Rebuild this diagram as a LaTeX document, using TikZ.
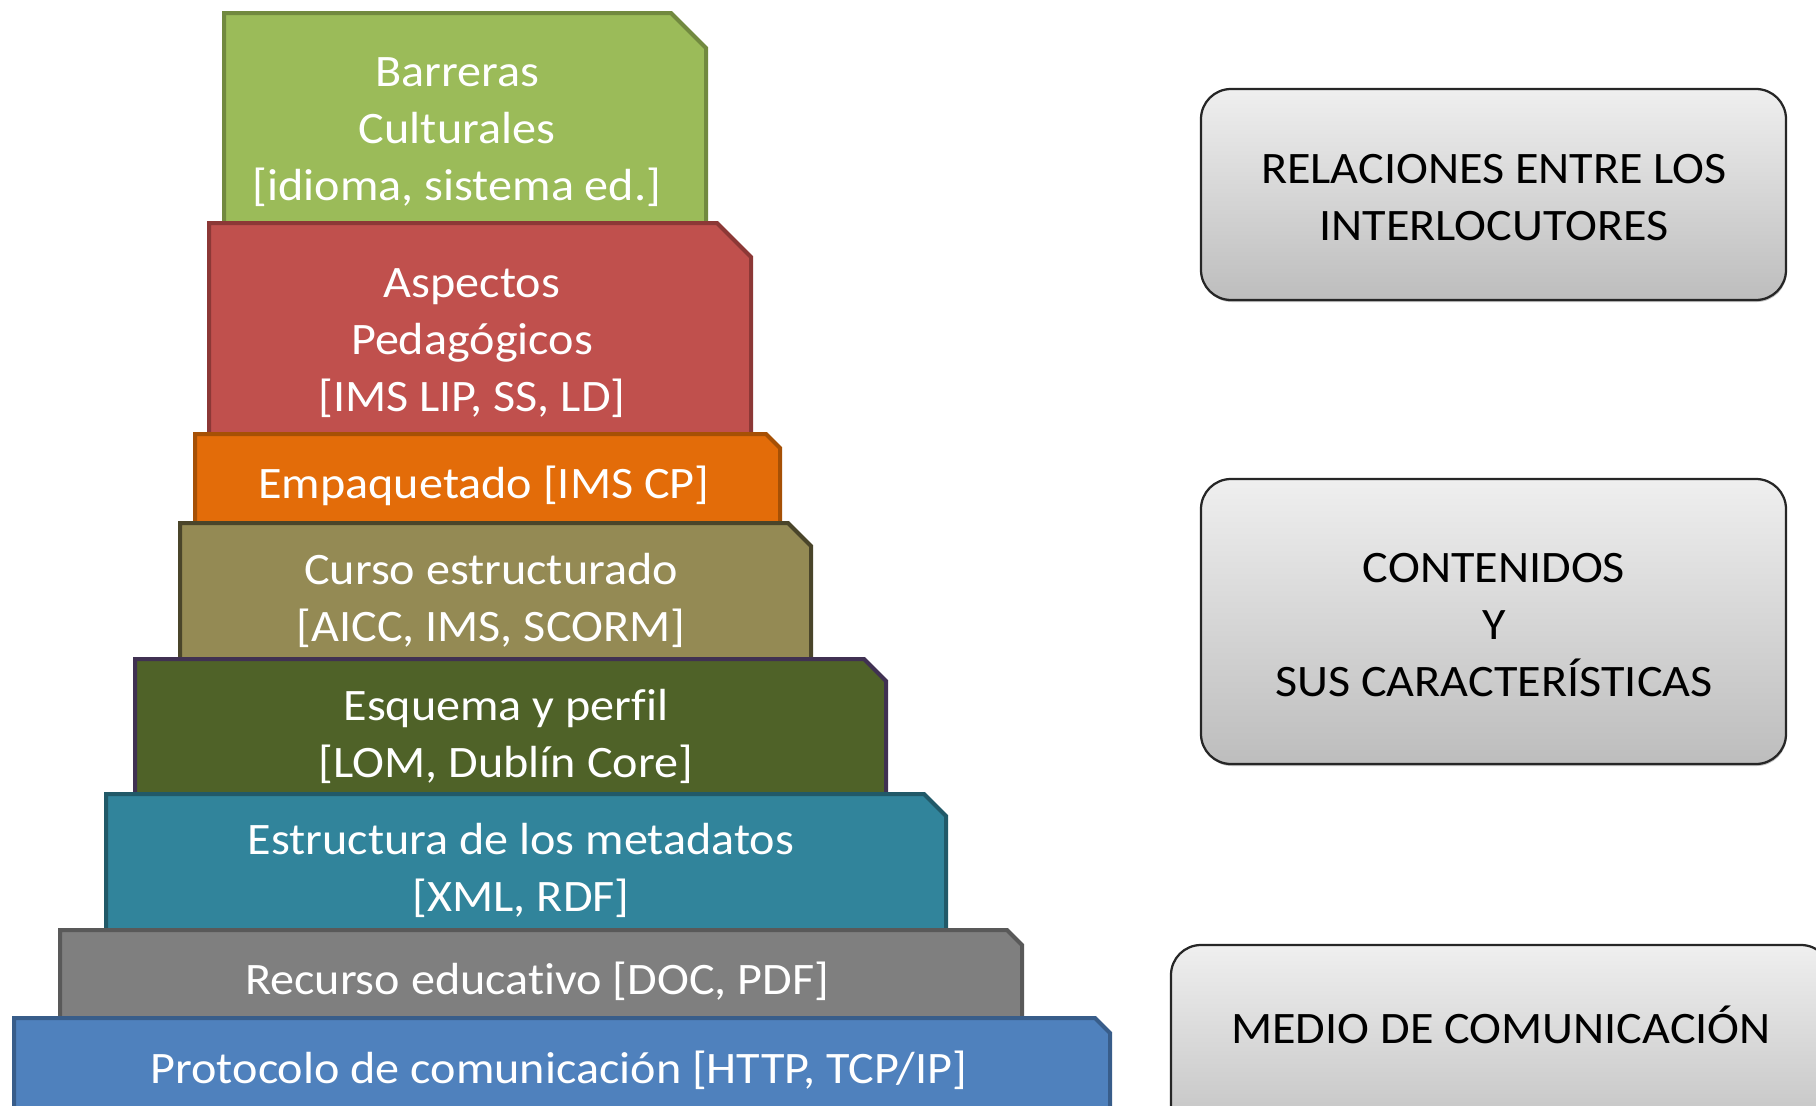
\documentclass[tikz,border=0pt]{standalone}
\usepackage{fontspec}
\setmainfont{Carlito}[FakeStretch=1.07, Ligatures=NoCommon]
\usetikzlibrary{shadows}
\definecolor{gfill}{HTML}{9BBB59}\definecolor{gdraw}{HTML}{71893F}
\definecolor{rfill}{HTML}{C0504D}\definecolor{rdraw}{HTML}{8C3836}
\definecolor{ofill}{HTML}{E36C09}\definecolor{odraw}{HTML}{A65005}
\definecolor{kfill}{HTML}{948A54}\definecolor{kdraw}{HTML}{4A452A}
\definecolor{dfill}{HTML}{4F6228}\definecolor{ddraw}{HTML}{403152}
\definecolor{tfill}{HTML}{31849B}\definecolor{tdraw}{HTML}{215968}
\definecolor{yfill}{HTML}{7F7F7F}\definecolor{ydraw}{HTML}{595959}
\definecolor{bfill}{HTML}{4F81BD}\definecolor{bdraw}{HTML}{385D8A}
\definecolor{boxtop}{HTML}{EFEFEF}\definecolor{boxbot}{HTML}{BDBDBD}
\tikzset{
  layer/.style={line width=1.6pt, line join=miter},
  wlbl/.style={text=white, align=center, font=\fontsize{18}{22.8}\selectfont, inner sep=0pt},
  blbl/.style={text=black, align=center, font=\fontsize{18}{22.8}\selectfont, inner sep=0pt},
  rbox/.style={draw=black!85, line width=0.9pt, rounded corners=12pt,
    top color=boxtop, bottom color=boxbot,
    drop shadow={shadow xshift=0.3pt, shadow yshift=-0.8pt, opacity=0.5, fill=black!50}},
}
\begin{document}
\begin{tikzpicture}[x=0.4pt, y=-0.4pt]
\useasboundingbox (0,0) rectangle (1816,1106);
\clip (0,0) rectangle (1816,1106);
% pyramid layers, top to bottom
\filldraw[layer, fill=gfill, draw=gdraw] (224,13) -- (671,13) -- (706,48) -- (706,223) -- (224,223) -- cycle;
\filldraw[layer, fill=rfill, draw=rdraw] (209,223) -- (717,223) -- (751,257) -- (751,434) -- (209,434) -- cycle;
\filldraw[layer, fill=ofill, draw=odraw] (195,434) -- (766,434) -- (780,448) -- (780,523) -- (195,523) -- cycle;
\filldraw[layer, fill=kfill, draw=kdraw] (180,523) -- (788,523) -- (811,546) -- (811,659) -- (180,659) -- cycle;
\filldraw[layer, fill=dfill, draw=ddraw] (135,659) -- (864,659) -- (886,681) -- (886,794) -- (135,794) -- cycle;
\filldraw[layer, fill=tfill, draw=tdraw] (106,794) -- (924,794) -- (946,816) -- (946,930) -- (106,930) -- cycle;
\filldraw[layer, fill=yfill, draw=ydraw] (60,930) -- (1007,930) -- (1022,945) -- (1022,1018) -- (60,1018) -- cycle;
\filldraw[layer, fill=bfill, draw=bdraw] (14,1018) -- (1095,1018) -- (1110,1033) -- (1110,1110) -- (14,1110) -- cycle;
% labels
\node[wlbl] (t1) at (457,132) {Barreras\\Culturales\\{[}idioma, sistema ed.{]}};
\node[wlbl] (t2) at (472,343) {Aspectos\\Pedagógicos\\{[}IMS LIP, SS, LD{]}};
\node[wlbl] (t3) at (484,486) {Empaquetado [IMS CP]};
\node[wlbl] (t4) at (491,600) {Curso estructurado\\{[}AICC, IMS, SCORM{]}};
\node[wlbl] (t5) at (506,736) {Esquema y perfil\\{[}LOM, Dublín Core{]}};
\node[wlbl] (t6) at (521,870) {Estructura de los metadatos\\{[}XML, RDF{]}};
\node[wlbl] (t7) at (537,981) {Recurso educativo [DOC, PDF]};
\node[wlbl] (t8) at (559,1070) {Protocolo de comunicación [HTTP, TCP/IP]};
% right boxes
\path[rbox] (1201,89) rectangle (1786,300);
\path[rbox] (1201,479) rectangle (1786,764);
\path[rbox] (1171,945) rectangle (1831,1160);
\node[blbl] (r1) at (1494,198) {RELACIONES ENTRE LOS\\INTERLOCUTORES};
\node[blbl] (r2) at (1494,625) {CONTENIDOS\\Y\\SUS CARACTERÍSTICAS};
\node[blbl] (r3) at (1501,1025) {MEDIO DE COMUNICACIÓN};
\end{tikzpicture}
\end{document}
